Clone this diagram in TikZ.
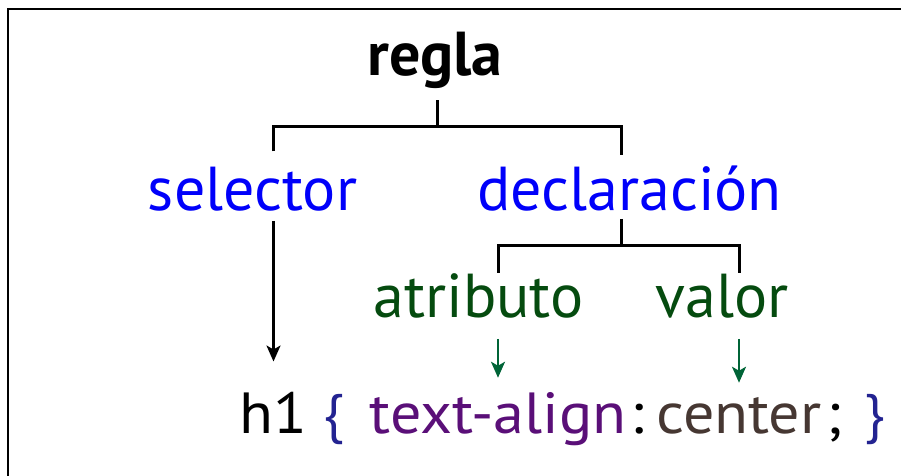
\documentclass[tikz,border=0pt]{standalone}
\usepackage{fontspec}
\setmainfont{PT Sans}
\newfontfamily\codefont[FakeStretch=1.07]{PT Sans}
\newfontfamily\bracefont{Liberation Sans}
\usetikzlibrary{arrows.meta}
\definecolor{selblue}{RGB}{0,0,250}
\definecolor{partgreen}{RGB}{5,75,15}
\definecolor{arrgreen}{RGB}{0,100,55}
\definecolor{propviolet}{RGB}{90,15,120}
\definecolor{valbrown}{RGB}{70,55,50}
\definecolor{bracenavy}{RGB}{35,35,145}
\begin{document}
\begin{tikzpicture}[x=1pt,y=-1pt,
    txt/.style={anchor=base,inner sep=0pt},
    big/.style={font=\fontsize{62}{70}\selectfont},
    code/.style={font=\codefont\fontsize{58}{64}\selectfont},
    curly/.style={font=\bracefont\fontsize{54}{60}\selectfont,text=bracenavy},
    tip/.style={-{Stealth[length=16pt,width=14pt,inset=4pt]}}]
  \useasboundingbox (0,0) rectangle (901,475);
  \clip (0,0) rectangle (901,475);
  \draw[line width=2.5pt] (8,9) rectangle (940,500);
  \draw
    (435,75) node[txt,font=\bfseries\fontsize{62}{68}\selectfont] (regla){regla}
    (252.5,210) node[txt,big,text=selblue] (sel){selector}
    (629.5,210) node[txt,big,text=selblue] (decl){declaración}
    (478.5,317) node[txt,big,text=partgreen] (attr){atributo}
    (722,317) node[txt,big,text=partgreen] (valor){valor}
    (273.5,433) node[txt,code] (h1){h1}
    (335,433) node[txt,curly] (lb){\{}
    (498,433) node[txt,code,text=propviolet] (prop){text-align}
    (637.5,433) node[txt,code] (colon){:}
    (739,433) node[txt,code,text=valbrown] (val){center}
    (834,433) node[txt,code] (semi){;}
    (876,433) node[txt,curly] (rb){\}};
  \coordinate (bar1) at (437,126);
  \coordinate (bar2) at (621,245);
  \begin{scope}[line width=3pt]
    \draw[shorten <=12pt] (regla.south -| bar1) -- (bar1);
    \draw[shorten <=15pt,shorten >=10pt] (sel.north -| h1.north) |- (bar1) -| ([xshift=-8pt]decl.north);
    \draw[shorten <=8pt] (decl.south -| bar2) -- (bar2);
    \draw (attr.north -| prop.north) |- (bar2) -| (valor.north -| val.north);
  \end{scope}
  \begin{scope}[line width=2.2pt,tip]
    \draw[shorten <=10pt,shorten >=30pt] (sel.south -| h1.north) -- (h1.north);
    \draw[arrgreen,shorten <=21pt,shorten >=14pt] (attr.south -| prop.north) -- (prop.north);
    \draw[arrgreen,shorten <=21pt,shorten >=14pt] (valor.south -| val.north) -- (val.north);
  \end{scope}
\end{tikzpicture}
\end{document}
